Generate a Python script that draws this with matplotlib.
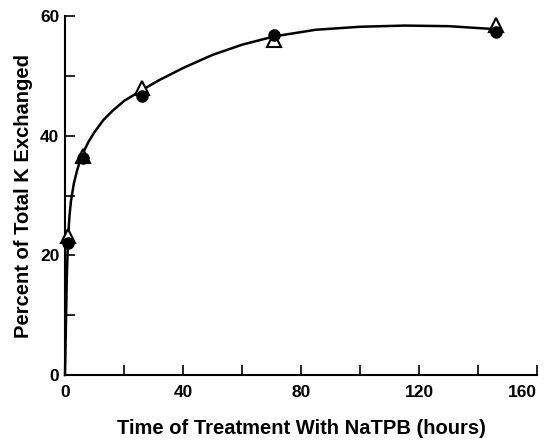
import matplotlib
matplotlib.use("Agg")
import matplotlib.pyplot as plt
from matplotlib.ticker import FixedLocator

# Data
circle_t = [1, 6, 26, 71, 146]
circle_v = [22.0, 36.3, 46.6, 56.8, 57.4]
tri_t = [1, 6, 26, 71, 146]
tri_v = [23.2, 36.6, 48.0, 56.0, 58.5]

curve_t = [0, 0.3, 0.6, 1, 1.5, 2, 3, 4, 5, 6, 8, 10, 13, 16, 20, 26, 32, 40, 50,
           60, 71, 85, 100, 115, 130, 146]
curve_v = [0, 8, 16, 22.5, 26.5, 29, 32, 34, 35.7, 37, 39, 40.6, 42.6, 44.1, 45.8,
           47.6, 49.3, 51.3, 53.5, 55.2, 56.6, 57.7, 58.2, 58.4, 58.3, 57.8]

x_major = [0, 40, 80, 120, 160]
x_minor = [20, 60, 100, 140]
y_major = [0, 20, 40, 60]
y_minor = [10, 30, 50]

W, H = 548, 441
fig = plt.figure(figsize=(W / 100, H / 100), dpi=100)
x0, x1, y0, y1 = 65, 537, 375, 16
ax = fig.add_axes([x0 / W, (H - y0) / H, (x1 - x0) / W, (y0 - y1) / H])

ax.plot(curve_t, curve_v, color="black", lw=1.8, zorder=2, clip_on=False)
ax.plot(tri_t, tri_v, linestyle="none", marker="^", markersize=10,
        markerfacecolor="white", markeredgecolor="black", markeredgewidth=1.5,
        zorder=3, clip_on=False)
ax.plot(circle_t, circle_v, linestyle="none", marker="o", markersize=8,
        color="black", zorder=4, clip_on=False)

ax.set_xlim(0, 160)
ax.set_ylim(0, 60)
ax.xaxis.set_major_locator(FixedLocator(x_major))
ax.xaxis.set_minor_locator(FixedLocator(x_minor))
ax.yaxis.set_major_locator(FixedLocator(y_major))
ax.yaxis.set_minor_locator(FixedLocator(y_minor))
ax.tick_params(which="both", direction="in", length=7, width=1.2, colors="black")
ax.tick_params(axis="x", pad=7)
ax.tick_params(axis="y", pad=4)
for s in ["top", "right"]:
    ax.spines[s].set_visible(False)
for s in ["left", "bottom"]:
    ax.spines[s].set_linewidth(1.5)

tick_font = dict(family=["Liberation Sans", "DejaVu Sans"], weight="bold", size=12.5)
xt = ax.set_xticklabels([str(v) for v in x_major], **tick_font)
xt[-1].set_ha("right")
ax.set_yticklabels([str(v) for v in y_major], **tick_font)

label_font = dict(family=["Liberation Sans", "DejaVu Sans"], weight="bold", size=14.5)
ax.set_xlabel("Time of Treatment With NaTPB (hours)", **label_font)
ax.set_ylabel("Percent of Total K Exchanged", **label_font)
ax.xaxis.set_label_coords(0.5, -(428 - y0) / (y0 - y1), transform=ax.transAxes)
ax.yaxis.set_label_coords(-(x0 - 24) / (x1 - x0), 0.5, transform=ax.transAxes)
ax.xaxis.label.set_va("center")
ax.yaxis.label.set_va("center")

fig.savefig("out.png", dpi=100)
